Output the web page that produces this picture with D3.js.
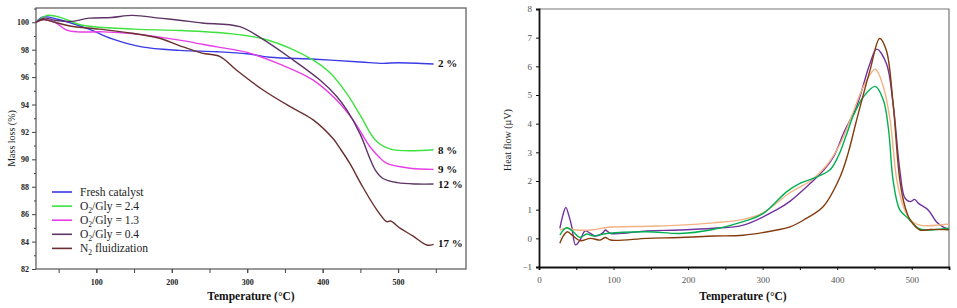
<!DOCTYPE html>
<html>
<head>
<meta charset="utf-8">
<script src="https://cdn.jsdelivr.net/npm/d3@7"></script>
<style>
  body { margin: 0; background: #fff; }
  svg { display: block; font-family: "Liberation Serif", "Times New Roman", serif; }
</style>
</head>
<body>
<svg id="chart" width="957" height="308"></svg>
<script>
// ---- TGA data (temperature °C, mass %) ----
const freshCatalyst = [[20,100.0],[30,100.4],[50,100.2],[90,99.5],[120,98.8],[160,98.2],[210,97.95],[260,97.85],[300,97.7],[330,97.45],[390,97.3],[450,97.1],[480,97.0],[500,97.05],[547,96.95]];
const gly24 = [[20,100.0],[35,100.5],[55,100.3],[80,99.8],[150,99.5],[210,99.4],[280,99.15],[321,98.8],[357,98.1],[387,97.25],[410,96.3],[432,94.8],[450,93.2],[470,91.4],[490,90.75],[547,90.7]];
const gly13 = [[20,100.0],[30,100.2],[45,100.0],[60,99.45],[75,99.3],[110,99.3],[150,99.15],[210,98.7],[260,98.2],[300,97.8],[343,96.95],[387,95.8],[419,94.3],[440,92.9],[463,90.9],[476,90.1],[485,89.7],[516,89.35],[547,89.27]];
const gly04 = [[20,100.0],[31,100.3],[45,100.15],[65,100.05],[91,100.3],[120,100.35],[148,100.5],[184,100.3],[210,100.15],[240,99.95],[290,99.68],[321,98.75],[357,97.4],[396,95.8],[419,94.57],[432,93.6],[450,91.8],[463,90.0],[470,89.2],[480,88.6],[499,88.3],[525,88.2],[547,88.2]];
const n2Fluid = [[20,100.0],[30,100.2],[45,100.0],[65,99.73],[104,99.5],[148,99.2],[184,98.83],[210,98.3],[240,97.75],[264,97.5],[286,96.5],[321,95.06],[357,93.84],[387,92.9],[414,91.5],[423,90.8],[436,89.7],[453,88.0],[472,86.3],[485,85.45],[490,85.5],[503,84.96],[520,84.4],[538,83.75],[547,83.8]];

const tgaNames = ["Fresh catalyst", "O2/Gly = 2.4", "O2/Gly = 1.3", "O2/Gly = 0.4", "N2 fluidization"];
const tgaColors = ["#3b3be6", "#3ee23e", "#e83ce8", "#5e3466", "#6a2f2f"];
const endLabels = ["2 %", "8 %", "9 %", "12 %", "17 %"];
const endLabelY = [97.0, 90.7, 89.3, 88.2, 83.9];

// ---- DSC data (temperature °C, heat flow µV) ----
const dscPurple = [[28,0.35],[32,0.8],[36,1.08],[40,0.8],[44,0.4],[49,-0.23],[55,-0.06],[62,0.26],[69,0.17],[76,0.08],[86,0.2],[89,0.29],[96,0.17],[145,0.26],[189,0.29],[234,0.35],[274,0.46],[319,1.0],[337,1.3],[364,1.92],[382,2.38],[395,2.84],[410,3.75],[426,4.6],[444,6.1],[453,6.6],[466,6.1],[475,4.7],[484,2.38],[491,1.4],[498,1.28],[504,1.36],[509,1.22],[522,0.99],[533,0.58],[542,0.4],[550,0.31]];
const dscPeach = [[28,0.29],[36,0.35],[50,0.29],[70,0.29],[91,0.38],[145,0.42],[189,0.46],[234,0.54],[274,0.66],[301,0.9],[337,1.6],[364,2.0],[386,2.55],[404,3.3],[420,4.3],[435,5.28],[451,5.9],[462,5.28],[471,4.12],[480,2.03],[489,1.1],[498,0.64],[511,0.46],[550,0.5]];
const dscGreen = [[28,0.11],[33,0.3],[38,0.37],[46,0.23],[55,0.03],[64,0.15],[73,0.08],[91,0.17],[145,0.23],[189,0.17],[230,0.29],[274,0.58],[301,0.87],[332,1.62],[350,1.92],[368,2.09],[390,2.38],[402,2.9],[413,3.66],[422,4.3],[435,4.93],[451,5.3],[462,4.82],[469,3.77],[475,2.03],[484,0.99],[495,0.7],[509,0.35],[520,0.29],[550,0.35]];
const dscBrown = [[28,-0.17],[33,0.1],[38,0.23],[46,0.08],[55,-0.08],[69,0.0],[82,-0.06],[89,0.03],[96,-0.06],[145,0.0],[189,0.03],[234,0.08],[274,0.11],[319,0.29],[337,0.4],[355,0.64],[381,1.1],[404,2.15],[415,3.0],[426,4.12],[444,5.86],[457,6.97],[466,6.55],[475,4.7],[484,2.03],[491,1.1],[498,0.64],[511,0.29],[525,0.31],[550,0.3]];

const dscSeries = [dscPurple, dscPeach, dscGreen, dscBrown];
const dscColors = ["#7030a0", "#f4b183", "#00b050", "#843c0c"];

const svg = d3.select("#chart");

// ================= Left chart: TGA =================
const L = { left: 36, top: 8, right: 466, bottom: 269 };
const xL = d3.scaleLinear().domain([20, 590]).range([L.left, L.right]);
const yL = d3.scaleLinear().domain([82, 101.04]).range([L.bottom, L.top]);

const gL = svg.append("g");

// frame
gL.append("rect")
  .attr("x", L.left).attr("y", L.top)
  .attr("width", L.right - L.left).attr("height", L.bottom - L.top)
  .attr("fill", "none").attr("stroke", "#555").attr("stroke-width", 1.2);

// x axis (major + minor)
gL.append("g")
  .attr("transform", `translate(0,${L.bottom})`)
  .call(d3.axisBottom(xL).tickValues(d3.range(50, 551, 50)).tickSize(4).tickFormat(""))
  .call(g => g.select(".domain").remove())
  .call(g => g.selectAll("line").attr("stroke", "#444"));
gL.append("g")
  .attr("transform", `translate(0,${L.bottom})`)
  .call(d3.axisBottom(xL).tickValues([100, 200, 300, 400, 500]).tickSize(4).tickPadding(6))
  .call(g => g.select(".domain").remove())
  .call(g => g.selectAll("line").attr("stroke", "#444"))
  .call(g => g.selectAll("text").attr("font-family", "Liberation Serif").attr("font-size", 8).attr("font-weight", "bold").attr("fill", "#222"));

// y axis (major + minor)
gL.append("g")
  .attr("transform", `translate(${L.left},0)`)
  .call(d3.axisLeft(yL).tickValues(d3.range(83, 102, 2)).tickSize(2).tickFormat(""))
  .call(g => g.select(".domain").remove())
  .call(g => g.selectAll("line").attr("stroke", "#444"));
gL.append("g")
  .attr("transform", `translate(${L.left},0)`)
  .call(d3.axisLeft(yL).tickValues(d3.range(82, 101, 2)).tickSize(4).tickPadding(3))
  .call(g => g.select(".domain").remove())
  .call(g => g.selectAll("line").attr("stroke", "#444"))
  .call(g => g.selectAll("text").attr("font-family", "Liberation Serif").attr("font-size", 8).attr("font-weight", "bold").attr("fill", "#222"));

// curves
const lineL = d3.line().x(d => xL(d[0])).y(d => yL(d[1])).curve(d3.curveCatmullRom);
[freshCatalyst, gly24, gly13, gly04, n2Fluid].forEach((s, i) => {
  gL.append("path").datum(s)
    .attr("d", lineL)
    .attr("fill", "none")
    .attr("stroke", tgaColors[i])
    .attr("stroke-width", 1.4);
});

// end labels
endLabels.forEach((t, i) => {
  gL.append("text")
    .attr("x", xL(553))
    .attr("y", yL(endLabelY[i]))
    .attr("dy", "0.35em")
    .attr("font-size", 11).attr("font-weight", "bold").attr("fill", "#111")
    .text(t);
});

// legend
const legend = gL.append("g");
tgaNames.forEach((name, i) => {
  const y = 192 + i * 14.1;
  legend.append("line")
    .attr("x1", 52).attr("x2", 72).attr("y1", y).attr("y2", y)
    .attr("stroke", tgaColors[i]).attr("stroke-width", 1.6);
  const t = legend.append("text")
    .attr("x", 80).attr("y", y).attr("dy", "0.35em")
    .attr("font-size", 11.5).attr("fill", "#222");
  const m = name.match(/^(O|N)2(.*)$/);
  if (m) {
    t.append("tspan").text(m[1]);
    t.append("tspan").attr("font-size", 7.5).attr("dy", 3).text("2");
    t.append("tspan").attr("dy", -3).text(m[2]);
  } else {
    t.text(name);
  }
});

// axis titles
gL.append("text")
  .attr("transform", `translate(15,${(L.top + L.bottom) / 2}) rotate(-90)`)
  .attr("text-anchor", "middle")
  .attr("font-size", 10).attr("fill", "#222")
  .text("Mass loss (%)");
gL.append("text")
  .attr("x", 251).attr("y", 300)
  .attr("text-anchor", "middle")
  .attr("font-size", 11.5).attr("font-weight", "bold").attr("fill", "#111")
  .text("Temperature (°C)");

// ================= Right chart: DSC =================
const R = { left: 539, top: 9, right: 949, bottom: 267 };
const xR = d3.scaleLinear().domain([0, 550]).range([R.left, R.right]);
const yR = d3.scaleLinear().domain([-1, 8]).range([R.bottom, R.top]);

const gR = svg.append("g");

// top/right frame gray
gR.append("path")
  .attr("d", `M${R.left},${R.top}H${R.right}V${R.bottom}`)
  .attr("fill", "none").attr("stroke", "#777").attr("stroke-width", 1.2);

gR.append("g")
  .attr("transform", `translate(0,${R.bottom})`)
  .call(d3.axisBottom(xR).tickValues(d3.range(0, 551, 50)).tickSize(3).tickFormat(d => d % 100 === 0 ? d : "").tickPadding(7))
  .call(g => g.select(".domain").attr("stroke", "#111").attr("stroke-width", 1.8))
  .call(g => g.selectAll("line").attr("stroke", "#111"))
  .call(g => g.selectAll("text").attr("font-family", "Liberation Serif").attr("font-size", 9).attr("fill", "#555"));

gR.append("g")
  .attr("transform", `translate(${R.left},0)`)
  .call(d3.axisLeft(yR).tickValues(d3.range(-1, 9, 1)).tickSize(3).tickPadding(4))
  .call(g => g.select(".domain").attr("stroke", "#111").attr("stroke-width", 1.8))
  .call(g => g.selectAll("line").attr("stroke", "#111"))
  .call(g => g.selectAll("text").attr("font-family", "Liberation Serif").attr("font-size", 9).attr("fill", "#555"));

const lineR = d3.line().x(d => xR(d[0])).y(d => yR(d[1])).curve(d3.curveCatmullRom);
dscSeries.forEach((s, i) => {
  gR.append("path").datum(s)
    .attr("d", lineR)
    .attr("fill", "none")
    .attr("stroke", dscColors[i])
    .attr("stroke-width", 1.4);
});

gR.append("text")
  .attr("transform", `translate(511,140) rotate(-90)`)
  .attr("text-anchor", "middle")
  .attr("font-size", 10).attr("fill", "#222")
  .text("Heat flow (µV)");
gR.append("text")
  .attr("x", 743).attr("y", 300)
  .attr("text-anchor", "middle")
  .attr("font-size", 11.5).attr("font-weight", "bold").attr("fill", "#111")
  .text("Temperature (°C)");
</script>
</body>
</html>
